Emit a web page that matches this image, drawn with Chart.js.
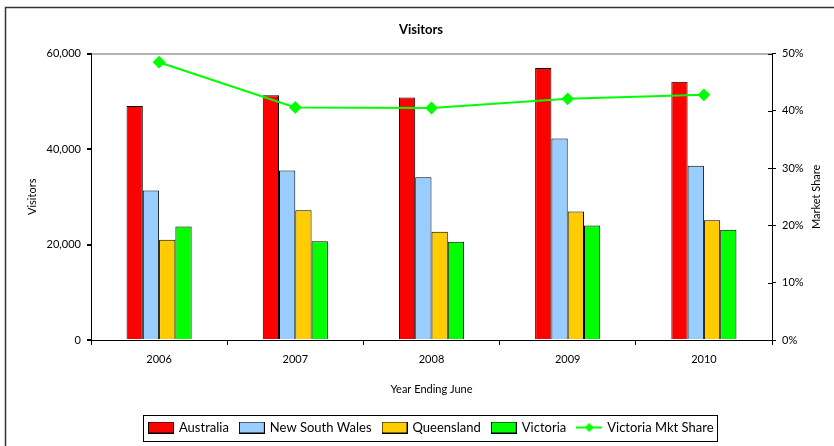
<!DOCTYPE html>
<html>
<head>
<meta charset="utf-8">
<title>Visitors</title>
<script src="https://cdn.jsdelivr.net/npm/chart.js@4"></script>
<style>
  html, body { margin: 0; padding: 0; background: #fff; }
  canvas { display: block; }
</style>
</head>
<body>
<canvas id="chart" width="834" height="446"></canvas>
<script>
// Data
const YEARS = ['2006', '2007', '2008', '2009', '2010'];
const AUSTRALIA = [49000, 51300, 50800, 57000, 54100];
const NSW = [31300, 35500, 34100, 42200, 36500];
const QUEENSLAND = [21000, 27200, 22700, 26900, 25100];
const VICTORIA = [23800, 20700, 20600, 24000, 23100];
const VIC_SHARE = [48.5, 40.6, 40.5, 42.1, 42.8]; // percent

const LEFT_TICKS_MAX = 60000;
const RIGHT_TICKS_MAX = 50;

Chart.defaults.font.family = 'Lato, "Open Sans", sans-serif';
Chart.defaults.font.size = 11;
Chart.defaults.color = '#000';

// Small canvas used as the legend swatch
function makeSwatch(fill, isLine) {
  const c = document.createElement('canvas');
  c.width = 26;
  c.height = 12;
  const g = c.getContext('2d');
  if (isLine) {
    g.strokeStyle = fill;
    g.lineWidth = 2;
    g.beginPath();
    g.moveTo(0, 6);
    g.lineTo(26, 6);
    g.stroke();
    g.fillStyle = fill;
    g.beginPath();
    g.moveTo(13, 1.5);
    g.lineTo(17.5, 6);
    g.lineTo(13, 10.5);
    g.lineTo(8.5, 6);
    g.closePath();
    g.fill();
  } else {
    g.fillStyle = fill;
    g.fillRect(0.5, 0.5, 25, 11);
    g.strokeStyle = '#000';
    g.lineWidth = 1;
    g.strokeRect(0.5, 0.5, 25, 11);
  }
  return c;
}

function barSet(label, data, color) {
  return {
    type: 'bar',
    label,
    data,
    backgroundColor: color,
    borderColor: '#000',
    borderWidth: 1,
    yAxisID: 'y',
    order: 1,
  };
}

const datasets = [
  barSet('Australia', AUSTRALIA, '#ff0000'),
  barSet('New South Wales', NSW, '#99ccff'),
  barSet('Queensland', QUEENSLAND, '#ffcc00'),
  barSet('Victoria', VICTORIA, '#00ff00'),
  {
    type: 'line',
    label: 'Victoria Mkt Share',
    data: VIC_SHARE,
    borderColor: '#00ff00',
    backgroundColor: '#00ff00',
    borderWidth: 2,
    pointStyle: 'rectRot',
    pointRadius: 5,
    pointBackgroundColor: '#00ff00',
    pointBorderColor: '#00ff00',
    tension: 0,
    fill: false,
    yAxisID: 'y1',
    order: 0,
  },
];

// Outer frame, legend frame, inner half of the right ticks and the right axis title
const decorations = {
  id: 'decorations',
  afterDraw(chart) {
    const ctx = chart.ctx;
    ctx.save();
    ctx.strokeStyle = '#333';
    ctx.lineWidth = 1.5;
    ctx.strokeRect(5.5, 7.5, 900, 500);

    const boxes = chart.legend.legendHitBoxes;
    if (boxes && boxes.length) {
      const first = boxes[0];
      const last = boxes[boxes.length - 1];
      const cy = first.top + first.height / 2;
      ctx.strokeStyle = '#000';
      ctx.lineWidth = 1;
      ctx.strokeRect(Math.round(first.left - 6) + 0.5, Math.round(cy - 13) + 0.5,
        Math.round(last.left + last.width - first.left + 10), 26);
    }

    const area = chart.chartArea;
    const y1 = chart.scales.y1;
    ctx.strokeStyle = '#000';
    ctx.lineWidth = 1;
    y1.ticks.forEach(t => {
      const py = Math.round(y1.getPixelForValue(t.value)) + 0.5;
      ctx.beginPath();
      ctx.moveTo(area.right - 4, py);
      ctx.lineTo(area.right, py);
      ctx.stroke();
    });

    ctx.translate(816, (area.top + area.bottom) / 2);
    ctx.rotate(-Math.PI / 2);
    ctx.fillStyle = '#000';
    ctx.font = '11px Lato, "Open Sans", sans-serif';
    ctx.textAlign = 'center';
    ctx.textBaseline = 'middle';
    ctx.fillText('Market Share', 0, 0);
    ctx.restore();
  }
};

new Chart(document.getElementById('chart'), {
  type: 'bar',
  data: { labels: YEARS, datasets },
  plugins: [decorations],
  options: {
    responsive: false,
    animation: false,
    layout: { padding: { left: 8, right: 0, top: 8, bottom: 2 } },
    datasets: {
      bar: { categoryPercentage: 0.478, barPercentage: 1 }
    },
    plugins: {
      title: {
        display: true,
        text: 'Visitors',
        color: '#000',
        font: { size: 13, weight: 'bold' },
        padding: { top: 14, bottom: 16 }
      },
      tooltip: { enabled: false },
      legend: {
        position: 'bottom',
        fullSize: false,
        labels: {
          usePointStyle: true,
          pointStyleWidth: 23,
          padding: 11.5,
          color: '#000',
          font: { size: 13 },
          generateLabels(chart) {
            return chart.data.datasets.map((ds, i) => ({
              text: ds.label,
              pointStyle: makeSwatch(ds.backgroundColor, ds.type === 'line'),
              fillStyle: ds.backgroundColor,
              strokeStyle: '#000',
              lineWidth: 0,
              hidden: !chart.isDatasetVisible(i),
              datasetIndex: i,
            }));
          }
        }
      }
    },
    scales: {
      x: {
        offset: true,
        border: { color: '#000', width: 1 },
        grid: {
          offset: true,
          drawOnChartArea: false,
          drawTicks: true,
          tickLength: 5,
          color: '#000',
        },
        ticks: { padding: 8, font: { size: 11 } },
        title: {
          display: true,
          text: 'Year Ending June',
          font: { size: 11 },
          padding: { top: 0, bottom: 13.9 }
        },
        afterFit(scale) { scale.height = 69.5; }
      },
      y: {
        position: 'left',
        min: 0,
        max: LEFT_TICKS_MAX,
        border: { color: '#000', width: 1 },
        grid: {
          tickLength: 4,
          tickColor: '#000',
          color: ctx => ctx.tick && ctx.tick.value === LEFT_TICKS_MAX ? '#b3b3b3' : 'rgba(0,0,0,0)',
          lineWidth: 2,
        },
        ticks: {
          stepSize: 20000,
          padding: 6,
          font: { size: 11 },
          callback: v => v.toLocaleString('en-US')
        },
        title: {
          display: true,
          text: 'Visitors',
          font: { size: 11 },
          padding: { top: 17.4, bottom: 0 }
        },
        afterFit(scale) { scale.width = 83; }
      },
      y1: {
        position: 'right',
        min: 0,
        max: RIGHT_TICKS_MAX,
        border: { color: '#000', width: 1 },
        grid: {
          drawOnChartArea: false,
          tickLength: 4,
          tickColor: '#000',
        },
        ticks: {
          stepSize: 10,
          padding: 6,
          font: { size: 11 },
          callback: v => v + '%'
        },
        afterFit(scale) { scale.width = 62; }
      }
    }
  }
});
</script>
</body>
</html>
